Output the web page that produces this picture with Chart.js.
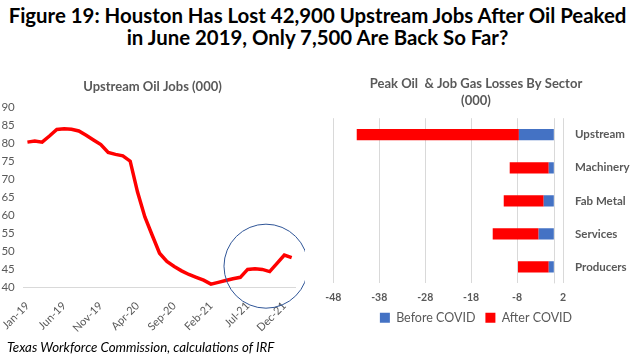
<!DOCTYPE html>
<html>
<head>
<meta charset="utf-8">
<script src="https://cdn.jsdelivr.net/npm/chart.js@4/dist/chart.umd.min.js"></script>
<style>
  html, body { margin:0; padding:0; background:#fff; }
  body { width:635px; height:361px; position:relative; overflow:hidden; font-family:Lato, "Open Sans", sans-serif; }
  .title { position:absolute; left:0; top:4px; width:635px; text-align:center; font-weight:bold; font-size:20.4px; line-height:22px; color:#000; white-space:nowrap; }
  .source { position:absolute; left:7px; top:339px; font-style:italic; font-size:13.3px; color:#000; }
  #jobsWrap { position:absolute; left:0; top:60px; width:305px; height:290px; }
  #sectorWrap { position:absolute; left:317px; top:60px; width:318px; height:274px; }
</style>
</head>
<body>
<div class="title">Figure 19: Houston Has Lost 42,900 Upstream Jobs After Oil Peaked<br>in June 2019, Only 7,500 Are Back So Far?</div>
<div id="jobsWrap"><canvas id="jobsChart"></canvas></div>
<div id="sectorWrap"><canvas id="sectorChart"></canvas></div>
<div class="source">Texas Workforce Commission, calculations of IRF</div>
<script>
/* ===== Datos ===== */
const months = ['Jan-19','Feb-19','Mar-19','Apr-19','May-19','Jun-19','Jul-19','Aug-19','Sep-19','Oct-19','Nov-19','Dec-19',
                'Jan-20','Feb-20','Mar-20','Apr-20','May-20','Jun-20','Jul-20','Aug-20','Sep-20','Oct-20','Nov-20','Dec-20',
                'Jan-21','Feb-21','Mar-21','Apr-21','May-21','Jun-21','Jul-21','Aug-21','Sep-21','Oct-21','Nov-21','Dec-21',
                'Jan-22'];
const upstreamJobs = [80.4, 80.7, 80.4, 82.1, 83.9, 84.1, 84.0, 83.5, 82.3, 81.0, 79.7, 77.5,
                      77.0, 76.6, 75.1, 66.5, 59.6, 54.5, 49.5, 47.2, 45.8, 44.6, 43.6, 42.8,
                      42.0, 40.9, 41.4, 41.9, 42.4, 42.8, 45.0, 45.2, 45.0, 44.4, 46.7, 49.0,
                      48.3];
const sectors = ['Upstream','Machinery','Fab Metal','Services','Producers'];
const beforeCovid = [-7.6, -1.1, -2.2, -3.3, -1.1];
const afterCovid  = [-35.3, -8.5, -8.7, -10.0, -6.7];

const FONT = 'Lato, "Open Sans", sans-serif';
const GREY = '#595959';
const GRID = '#d9d9d9';

/* ===== Grafica de linea ===== */
const circlePlugin = {
  id:'circle',
  afterDatasetsDraw(chart){
    const {ctx, scales:{x, y}} = chart;
    ctx.save();
    ctx.strokeStyle = '#2f5597';
    ctx.lineWidth = 1;
    ctx.beginPath();
    ctx.arc(x.getPixelForValue(32.5), y.getPixelForValue(45.9), 42, 0, Math.PI*2);
    ctx.stroke();
    ctx.restore();
  }
};

new Chart(document.getElementById('jobsChart'), {
  type:'line',
  data:{ labels: months, datasets:[{
    data: upstreamJobs, borderColor:'#ff0000', borderWidth:3.5, pointRadius:0, tension:0, fill:false
  }]},
  options:{
    responsive:true, maintainAspectRatio:false, animation:false,
    plugins:{
      legend:{ display:false },
      tooltip:{ enabled:false },
      title:{ display:true, text:'Upstream Oil Jobs (000)', color:GREY,
        font:{ family:FONT, size:13, weight:'bold' }, padding:{ top:19.4, bottom:12.6 } }
    },
    scales:{
      x:{
        offset:true,
        grid:{ display:false },
        border:{ color:GRID },
        ticks:{ autoSkip:false, maxRotation:45, minRotation:45, color:GREY, padding:4,
          font:{ family:FONT, size:11 },
          callback:(v,i)=> i%5===0 ? months[i] : '' },
        afterFit(s){ s.height = 62.6; }
      },
      y:{
        min:40, max:90,
        grid:{ display:false, drawTicks:false },
        border:{ display:false },
        ticks:{ stepSize:5, color:GREY, padding:9, font:{ family:FONT, size:11.5 } },
        afterFit(s){ s.width = 23.3; }
      }
    }
  },
  plugins:[circlePlugin]
});

/* ===== Barras por sector ===== */
const zeroLine = {
  id:'zeroLine',
  beforeDatasetsDraw(chart){
    const {ctx, chartArea, scales:{x}} = chart;
    const px = Math.round(x.getPixelForValue(0)) + 0.5;
    ctx.save();
    ctx.strokeStyle = GRID;
    ctx.lineWidth = 1;
    ctx.beginPath();
    ctx.moveTo(px, chartArea.top);
    ctx.lineTo(px, chartArea.bottom);
    ctx.stroke();
    ctx.restore();
  }
};

new Chart(document.getElementById('sectorChart'), {
  type:'bar',
  data:{ labels: sectors, datasets:[
    { label:'Before COVID', data: beforeCovid, backgroundColor:'#4472c4' },
    { label:'After COVID',  data: afterCovid,  backgroundColor:'#ff0000' }
  ]},
  options:{
    indexAxis:'y',
    responsive:true, maintainAspectRatio:false, animation:false,
    datasets:{ bar:{ barPercentage:0.34, categoryPercentage:1 } },
    plugins:{
      tooltip:{ enabled:false },
      title:{ display:true, text:['Peak Oil  & Job Gas Losses By Sector','(000)'], color:GREY,
        font:{ family:FONT, size:13, weight:'bold', lineHeight:1.3 }, padding:{ top:15.6, bottom:8.8 } },
      legend:{ position:'bottom',
        labels:{ boxWidth:10, boxHeight:10, color:GREY, padding:10, font:{ family:FONT, size:12.5 } } }
    },
    scales:{
      x:{
        stacked:true, min:-48, max:2,
        grid:{ color:GRID, drawTicks:false },
        border:{ display:false },
        ticks:{ stepSize:10, color:GREY, padding:8, font:{ family:FONT, size:10.5, weight:'bold' } },
        afterFit(s){ s.paddingLeft = 16.3; s.height = 18.1; }
      },
      y:{
        stacked:true, position:'right',
        grid:{ display:false, drawTicks:false },
        border:{ display:false },
        ticks:{ color:GREY, padding:12, font:{ family:FONT, size:11.5, weight:'bold' } },
        afterFit(s){ s.width = 72; }
      }
    }
  },
  plugins:[zeroLine]
});
</script>
</body>
</html>
